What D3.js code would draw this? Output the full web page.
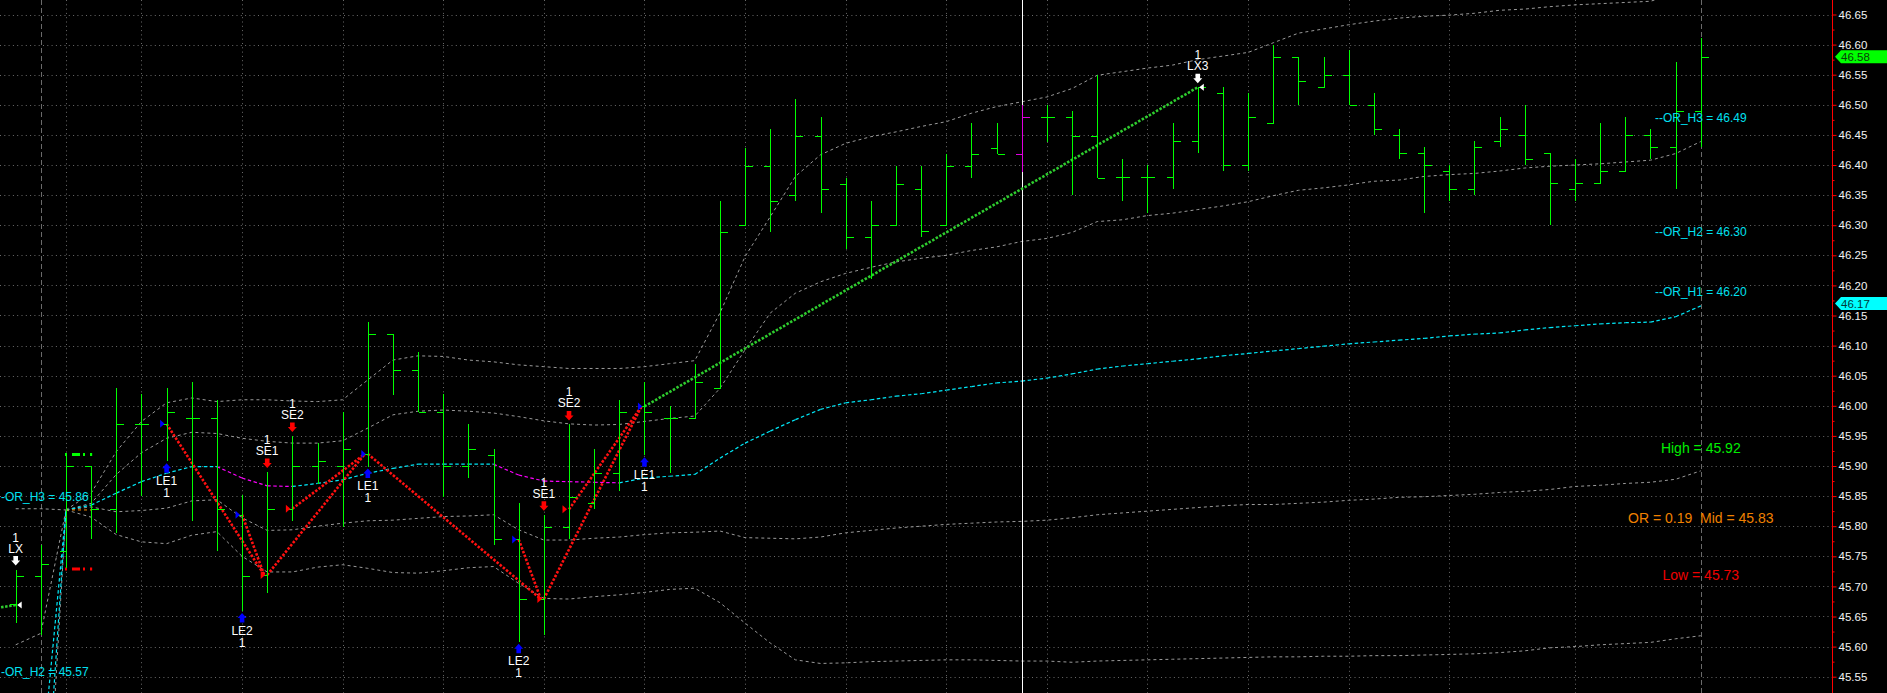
<!DOCTYPE html>
<html><head><meta charset="utf-8">
<script src="https://cdn.jsdelivr.net/npm/d3@7"></script>
<style>html,body{margin:0;padding:0;background:#000;overflow:hidden}svg{display:block}</style>
</head><body>
<svg id="c" width="1887" height="693"></svg>
<script>
// ---------------- DATA ----------------
const opens  = [45.67,45.718,45.758,45.900,45.829,45.970,45.970,45.980,45.980,45.819,45.719,45.829,45.900,45.900,45.920,46.119,46.059,45.989,45.900,45.919,45.778,45.679,45.798,45.839,45.889,45.999,45.979,45.979,46.029,46.300,46.399,46.350,46.449,46.369,46.280,46.300,46.360,46.300,46.399,46.429,46.419,46.479,46.479,46.449,46.380,46.380,46.380,46.440,46.519,46.400,46.469,46.580,46.529,46.550,46.499,46.450,46.420,46.390,46.360,46.440,46.450,46.420,46.360,46.370,46.390,46.450,46.430,46.489];
const highs  = [45.728,45.769,45.919,45.900,46.030,46.020,46.030,46.039,46.010,45.851,45.890,45.950,45.939,45.989,46.139,46.119,46.089,46.019,45.969,45.929,45.838,45.819,45.969,45.929,46.009,46.040,45.999,46.069,46.340,46.429,46.460,46.509,46.479,46.379,46.340,46.399,46.399,46.419,46.469,46.469,46.499,46.499,46.489,46.550,46.410,46.400,46.469,46.529,46.529,46.519,46.600,46.580,46.580,46.591,46.519,46.460,46.430,46.400,46.440,46.479,46.499,46.420,46.410,46.469,46.479,46.460,46.571,46.611];
const lows   = [45.639,45.619,45.730,45.778,45.789,45.850,45.908,45.808,45.758,45.659,45.689,45.808,45.870,45.798,45.899,46.018,45.989,45.849,45.880,45.768,45.608,45.619,45.778,45.828,45.859,45.918,45.889,45.979,46.029,46.300,46.289,46.340,46.320,46.260,46.210,46.300,46.280,46.300,46.379,46.419,46.389,46.439,46.350,46.379,46.340,46.320,46.360,46.420,46.390,46.390,46.469,46.499,46.529,46.499,46.450,46.410,46.320,46.340,46.350,46.430,46.400,46.300,46.340,46.370,46.390,46.410,46.360,46.430];
const closes = [45.718,45.738,45.900,45.829,45.970,45.970,45.989,45.980,45.829,45.718,45.829,45.900,45.909,45.929,46.119,46.059,45.989,45.900,45.929,45.778,45.679,45.798,45.849,45.889,45.989,45.989,45.979,46.039,46.289,46.399,46.340,46.449,46.360,46.280,46.300,46.369,46.290,46.399,46.419,46.419,46.479,46.479,46.449,46.379,46.380,46.380,46.440,46.530,46.400,46.479,46.580,46.540,46.550,46.499,46.460,46.420,46.400,46.360,46.430,46.460,46.410,46.370,46.370,46.390,46.450,46.430,46.489,46.580];

// session bands, one value per bar starting at bar 2
const bandStart = 2;
const upper2 = [45.827,45.855,45.924,45.974,46.005,46.013,46.007,46.010,46.010,46.008,46.007,46.010,46.043,46.076,46.083,46.082,46.076,46.073,46.068,46.065,46.062,46.062,46.062,46.065,46.070,46.075,46.154,46.248,46.314,46.381,46.417,46.436,46.447,46.455,46.464,46.472,46.486,46.497,46.505,46.513,46.527,46.549,46.555,46.561,46.566,46.575,46.581,46.587,46.603,46.619,46.626,46.633,46.639,46.644,46.647,46.649,46.652,46.657,46.659,46.663,46.666,46.668,46.670,46.672,46.685,46.710];
const upper1 = [45.827,45.838,45.886,45.922,45.946,45.956,45.954,45.946,45.941,45.938,45.938,45.942,45.963,45.985,45.991,45.993,45.991,45.988,45.982,45.975,45.970,45.968,45.969,45.974,45.979,45.983,46.029,46.093,46.154,46.187,46.206,46.220,46.230,46.239,46.245,46.250,46.258,46.264,46.273,46.278,46.288,46.306,46.309,46.316,46.320,46.326,46.332,46.339,46.349,46.358,46.362,46.367,46.373,46.375,46.381,46.384,46.386,46.390,46.395,46.398,46.400,46.402,46.405,46.408,46.419,46.439];
const midLine = [45.827,45.835,45.855,45.874,45.888,45.899,45.899,45.880,45.867,45.866,45.871,45.877,45.888,45.896,45.903,45.903,45.903,45.903,45.885,45.875,45.874,45.873,45.872,45.880,45.883,45.886,45.913,45.938,45.958,45.977,45.994,46.005,46.010,46.016,46.020,46.026,46.032,46.038,46.041,46.046,46.053,46.061,46.066,46.070,46.074,46.078,46.083,46.087,46.091,46.095,46.099,46.103,46.106,46.109,46.112,46.116,46.119,46.121,46.126,46.130,46.133,46.136,46.138,46.139,46.148,46.166];
const lower1 = [45.827,45.832,45.824,45.826,45.830,45.842,45.844,45.814,45.793,45.794,45.800,45.805,45.809,45.810,45.813,45.816,45.817,45.819,45.794,45.777,45.777,45.780,45.782,45.786,45.789,45.790,45.792,45.781,45.780,45.779,45.782,45.789,45.793,45.797,45.800,45.803,45.805,45.807,45.808,45.810,45.814,45.819,45.822,45.825,45.828,45.831,45.834,45.836,45.836,45.838,45.840,45.843,45.845,45.848,45.849,45.851,45.853,45.856,45.858,45.861,45.866,45.868,45.871,45.873,45.878,45.892];
const lower2 = [45.827,45.815,45.786,45.774,45.771,45.785,45.791,45.750,45.724,45.724,45.732,45.736,45.730,45.723,45.722,45.726,45.731,45.733,45.705,45.680,45.679,45.683,45.686,45.690,45.695,45.697,45.673,45.639,45.606,45.578,45.572,45.573,45.575,45.576,45.577,45.578,45.578,45.577,45.576,45.576,45.574,45.576,45.577,45.578,45.579,45.580,45.581,45.582,45.583,45.583,45.584,45.584,45.585,45.585,45.586,45.587,45.588,45.590,45.593,45.598,45.600,45.603,45.605,45.607,45.613,45.618];

// previous-session line ends (bars 0,1) joining the session start at bar 2
const preBars   = [0, 1, 2];
const preGrayA  = [45.829, 45.829, 45.827];
const preGrayB  = [45.603, 45.622, 45.827];
const preGrayC  = [45.050, 45.120, 45.827];
const preCyanA  = [45.300, 45.390, 45.827];
const preCyanB  = [45.100, 45.210, 45.827];

// opening range
const orBars = [2, 3];
const orHigh = 45.919, orMid = 45.827, orLow = 45.729;

// trades: signals
const sigBars   = [0, 6, 9, 10, 11, 14, 20, 21, 22, 25, 47];
const sigNames  = ["LX","LE1","LE2","SE1","SE2","LE1","LE2","SE1","SE2","LE1","LX3"];
const sigKinds  = ["LX","LE","LE","SE","SE","LE","LE","SE","SE","LE","LX"];
const sigPrices = [45.669,45.970,45.819,45.719,45.829,45.920,45.778,45.679,45.828,45.999,46.529];
const sigQty    = ["1","1","1","1","1","1","1","1","1","1","1"];

// trade lines
const tradeFromBar   = [-3, 6, 9, 10, 11, 14, 20, 21, 22, 25];
const tradeFromPrice = [45.650,45.970,45.819,45.719,45.829,45.920,45.778,45.679,45.828,45.999];
const tradeToBar     = [0, 10, 10, 14, 14, 21, 21, 25, 25, 47];
const tradeToPrice   = [45.669,45.719,45.719,45.920,45.920,45.679,45.679,45.999,45.999,46.529];
const tradeWin       = [true,false,false,false,false,false,false,false,false,true];

// axis / grid
const yTicks = [45.55,45.60,45.65,45.70,45.75,45.80,45.85,45.90,45.95,46.00,46.05,46.10,46.15,46.20,46.25,46.30,46.35,46.40,46.45,46.50,46.55,46.60,46.65];
const yMinorTicks = [45.575,45.625,45.675,45.725,45.775,45.825,45.875,45.925,45.975,46.025,46.075,46.125,46.175,46.225,46.275,46.325,46.375,46.425,46.475,46.525,46.575,46.625];
const vGridBars = [2,5,9,13,17,21,25,29,33,37,41,45,49,53,57,62];
const sessionBars = [1, 67];
const cursorBar = 40;

// level labels
const rightLevelText  = ["--OR_H3 = 46.49","--OR_H2 = 46.30","--OR_H1 = 46.20"];
const rightLevelValue = [46.49, 46.30, 46.20];
const leftLevelText   = ["-OR_H3 = 45.86","-OR_H2 = 45.57"];
const leftLevelValue  = [45.86, 45.57];
const orText  = ["High = 45.92","OR = 0.19 \u00A0Mid = 45.83","Low = 45.73"];
const orValue = [45.92, 45.83, 45.73];
const lastPrice = 46.58, lastMid = 46.17;

// ---------------- DRAW ----------------
const svg = d3.select("#c");
svg.append("rect").attr("width",1887).attr("height",693).attr("fill","#000");
const FONT = "'Liberation Sans', Arial, sans-serif";
const nBars = opens.length;
const x = d3.scaleLinear().domain([0, nBars-1]).range([15.7, 1700.8]);
const y = d3.scaleLinear().domain([45.55, 46.65]).range([676.7, 14.5]);
const axisX = 1832;
const px = v => Math.round(v) + 0.5;

const plot = svg.append("g");
plot.selectAll("line.hg").data(yTicks).join("line").attr("class","hg")
  .attr("x1",0).attr("x2",axisX).attr("y1",d=>px(y(d))).attr("y2",d=>px(y(d)))
  .attr("stroke","#6a6a6a").attr("stroke-dasharray","1,3.3");
plot.selectAll("line.vg").data(vGridBars).join("line").attr("class","vg")
  .attr("x1",d=>px(x(d))).attr("x2",d=>px(x(d))).attr("y1",0).attr("y2",693)
  .attr("stroke","#6a6a6a").attr("stroke-dasharray","1,3.3");
plot.selectAll("line.sg").data(sessionBars).join("line").attr("class","sg")
  .attr("x1",d=>px(x(d))).attr("x2",d=>px(x(d))).attr("y1",0).attr("y2",693)
  .attr("stroke","#6a6a6a").attr("stroke-dasharray","5,3");

const bandLine = d3.line().x((d,i)=>x(i+bandStart)).y(d=>y(d));
[upper2, upper1, lower1, lower2].forEach(arr=>{
  plot.append("path").attr("d", bandLine(arr)).attr("fill","none")
    .attr("stroke","#9a9a9a").attr("stroke-width",1).attr("stroke-dasharray","3,3");
});
const preLine = d3.line().x((d,i)=>x(preBars[i])).y(d=>y(d));
[preGrayA, preGrayB, preGrayC].forEach(arr=>{
  plot.append("path").attr("d", preLine(arr)).attr("fill","none")
    .attr("stroke","#9a9a9a").attr("stroke-width",1).attr("stroke-dasharray","3,3");
});
[preCyanA, preCyanB].forEach(arr=>{
  plot.append("path").attr("d", preLine(arr)).attr("fill","none")
    .attr("stroke","#00e8f8").attr("stroke-width",1.2).attr("stroke-dasharray","3.5,2.5");
});
const segs = d3.range(midLine.length-1);
plot.selectAll("line.mid").data(segs).join("line").attr("class","mid")
  .attr("x1",i=>x(i+bandStart)).attr("x2",i=>x(i+1+bandStart))
  .attr("y1",i=>y(midLine[i])).attr("y2",i=>y(midLine[i+1]))
  .attr("stroke",i=> midLine[i+1] < midLine[i] ? "#ff00ff" : "#00e8f8")
  .attr("stroke-width",1.2).attr("stroke-dasharray","3.5,2.5");

const orG = plot.append("g");
orG.append("line").attr("x1",x(orBars[0])-1).attr("x2",x(orBars[1])+1).attr("y1",y(orHigh)).attr("y2",y(orHigh))
  .attr("stroke","#00ff00").attr("stroke-width",3).attr("stroke-dasharray","2,5,8,3");
orG.append("line").attr("x1",x(orBars[0])-1).attr("x2",x(orBars[1])+1).attr("y1",y(orLow)).attr("y2",y(orLow))
  .attr("stroke","#ff0000").attr("stroke-width",3).attr("stroke-dasharray","2,5,8,3");
orG.append("line").attr("x1",x(orBars[0])).attr("x2",x(orBars[1])).attr("y1",y(orMid)).attr("y2",y(orMid))
  .attr("stroke","#ff8c00").attr("stroke-width",1).attr("stroke-dasharray","3,3");

plot.append("line").attr("x1",px(x(cursorBar))).attr("x2",px(x(cursorBar))).attr("y1",0).attr("y2",693)
  .attr("stroke","#ffffff").attr("stroke-width",1);

plot.selectAll("line.tr").data(d3.range(tradeFromBar.length)).join("line").attr("class","tr")
  .attr("x1",i=>x(tradeFromBar[i])).attr("y1",i=>y(tradeFromPrice[i]))
  .attr("x2",i=>x(tradeToBar[i]) - (tradeWin[i] ? 0 : 3)).attr("y2",i=>y(tradeToPrice[i]))
  .attr("stroke",i=>tradeWin[i] ? "#2ecc2e" : "#ff1010")
  .attr("stroke-width",2.6).attr("stroke-dasharray","2.5,1.6");

const bars = plot.append("g").attr("shape-rendering","crispEdges");
const idx = d3.range(nBars);
const barColor = i => i === cursorBar ? "#e000e0" : "#00ff00";
bars.selectAll("line.hl").data(idx).join("line").attr("class","hl")
  .attr("x1",i=>px(x(i))).attr("x2",i=>px(x(i))).attr("y1",i=>y(highs[i])).attr("y2",i=>y(lows[i]))
  .attr("stroke",barColor);
bars.selectAll("line.op").data(idx).join("line").attr("class","op")
  .attr("x1",i=>px(x(i))-7).attr("x2",i=>px(x(i))).attr("y1",i=>px(y(opens[i]))).attr("y2",i=>px(y(opens[i])))
  .attr("stroke",barColor);
bars.selectAll("line.cl").data(idx).join("line").attr("class","cl")
  .attr("x1",i=>px(x(i))).attr("x2",i=>px(x(i))+7).attr("y1",i=>px(y(closes[i]))).attr("y2",i=>px(y(closes[i])))
  .attr("stroke",barColor);

const sig = plot.append("g");
function upArrow(cx, t){ return `M${cx},${t} L${cx+4.5},${t+5} L${cx+2.3},${t+5} L${cx+2.3},${t+9.5} L${cx-2.3},${t+9.5} L${cx-2.3},${t+5} L${cx-4.5},${t+5} Z`; }
function downArrow(cx, b){ return `M${cx},${b} L${cx+4.5},${b-5} L${cx+2.3},${b-5} L${cx+2.3},${b-9.5} L${cx-2.3},${b-9.5} L${cx-2.3},${b-5} L${cx-4.5},${b-5} Z`; }
sigBars.forEach((b,k)=>{
  const cx = x(b), kind = sigKinds[k];
  const py = y(sigPrices[k]);
  if (kind === "LE" || kind === "SE") {
    sig.append("path").attr("d",`M${cx-6.5},${py-4} L${cx-2},${py} L${cx-6.5},${py+4} Z`)
      .attr("fill", kind === "LE" ? "#0000ff" : "#ff0000");
  } else {
    sig.append("path").attr("d",`M${cx+6},${py-3.5} L${cx+1.5},${py} L${cx+6},${py+3.5} Z`).attr("fill","#ffffff");
  }
  if (kind === "LE") {
    const lo = y(lows[b]);
    sig.append("path").attr("d", upArrow(cx, lo+2)).attr("fill","#0000ff");
    sig.append("text").attr("x",cx).attr("y",lo+23.5).text(sigNames[k]);
    sig.append("text").attr("x",cx).attr("y",lo+35.5).text(sigQty[k]);
  } else {
    const hi = y(highs[b]);
    sig.append("path").attr("d", downArrow(cx, hi-4)).attr("fill", kind === "SE" ? "#ff0000" : "#ffffff");
    sig.append("text").attr("x",cx).attr("y",hi-17).text(sigNames[k]);
    sig.append("text").attr("x",cx).attr("y",hi-28).text(sigQty[k]);
  }
});
sig.selectAll("text").attr("fill","#ffffff").attr("font-family",FONT).attr("font-size","12px").attr("text-anchor","middle");

const lab = svg.append("g").attr("font-family",FONT);
lab.selectAll("text.rl").data(rightLevelText).join("text").attr("class","rl")
  .attr("x",x(nBars-1)).attr("y",(d,i)=>y(rightLevelValue[i])+11).attr("text-anchor","middle")
  .attr("font-size","12px").attr("fill","#00e0f0").text(d=>d);
lab.selectAll("text.ll").data(leftLevelText).join("text").attr("class","ll")
  .attr("x",1).attr("y",(d,i)=>y(leftLevelValue[i])+11).attr("text-anchor","start")
  .attr("font-size","12px").attr("fill","#00e0f0").text(d=>d);
const orColors = ["#00ee00","#f08000","#ee0000"];
const orDy = [-1, 15, 11.5];
lab.selectAll("text.or").data(orText).join("text").attr("class","or")
  .attr("x",x(nBars-1)).attr("y",(d,i)=>y(orValue[i])+orDy[i]).attr("text-anchor","middle")
  .attr("font-size","14px").attr("fill",(d,i)=>orColors[i]).text(d=>d);

const axG = svg.append("g").attr("transform",`translate(${axisX+0.5},0)`);
axG.call(d3.axisRight(y).tickValues(yTicks).tickFormat(d3.format(".2f")).tickSize(4).tickPadding(2));
axG.select(".domain").remove();
axG.selectAll(".tick line").attr("stroke","#ff0000");
axG.selectAll(".tick text").attr("fill","#f2f2f2").attr("font-family",FONT).attr("font-size","11.5px");
const axMinor = svg.append("g").attr("transform",`translate(${axisX+0.5},0)`);
axMinor.call(d3.axisRight(y).tickValues(yMinorTicks).tickFormat("").tickSize(2));
axMinor.select(".domain").remove();
axMinor.selectAll(".tick line").attr("stroke","#ff0000");
svg.append("line").attr("x1",axisX+0.5).attr("x2",axisX+0.5).attr("y1",0).attr("y2",693).attr("stroke","#ff0000").attr("stroke-width",1);

function tag(v, fill, txtFill){
  const cy = y(v);
  svg.append("path").attr("d",`M${axisX+3},${cy} L${axisX+9},${cy-6.5} L1887,${cy-6.5} L1887,${cy+6.5} L${axisX+9},${cy+6.5} Z`).attr("fill",fill);
  svg.append("text").attr("x",axisX+9).attr("y",cy).attr("dy","0.36em").attr("fill",txtFill)
    .attr("font-family",FONT).attr("font-size","11.5px").text(d3.format(".2f")(v));
}
tag(lastPrice, "#00ff00", "#0a3a0a");
tag(lastMid, "#00ffff", "#003a3a");
</script>
</body></html>
